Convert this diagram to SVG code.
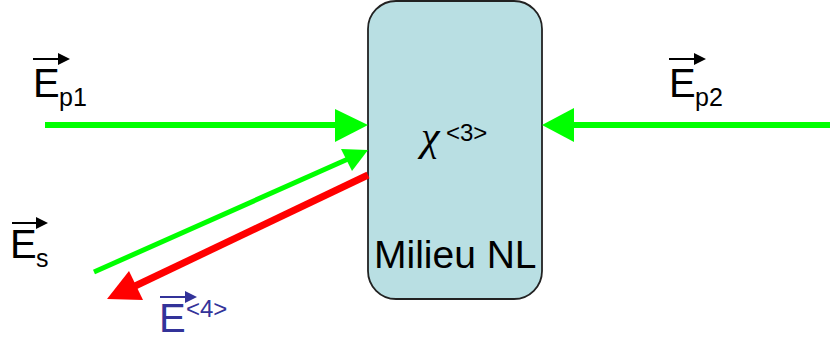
<svg xmlns="http://www.w3.org/2000/svg" width="830" height="341" viewBox="0 0 830 341">
<style>
.t{font-family:"Liberation Sans",Arial,sans-serif;fill:#000}
.b{fill:#333399}
.g{stroke:#00FF00;fill:none}
.r{stroke:#FF0000;fill:none}
.va{stroke:#000;stroke-width:2}
</style>
<rect width="830" height="341" fill="#fff"/>
<g id="milieu">
<rect x="368" y="1" width="174" height="298" rx="28" ry="28" fill="#B9DFE3" stroke="#222" stroke-width="1.8"/>
<text x="421" y="150" font-family="'Liberation Serif','Times New Roman',serif" font-style="italic" font-size="42">χ</text>
<text class="t" x="446" y="141" font-size="24">&lt;3&gt;</text>
<text class="t" x="374" y="268" font-size="39">Milieu NL</text>
</g>
<g id="connectors">
<line class="g" x1="45" y1="125" x2="338" y2="125" stroke-width="6"/>
<polygon points="335,109 368,125 335,142" fill="#00FF00"/>
<line class="g" x1="830" y1="125" x2="572" y2="125" stroke-width="6"/>
<polygon points="574,108 542,125 574,142" fill="#00FF00"/>
<line class="g" x1="94" y1="272" x2="348" y2="159" stroke-width="5"/>
<polygon points="341,149 368,150 352,171" fill="#00FF00"/>
<line class="r" x1="368" y1="175" x2="133" y2="287" stroke-width="7"/>
<polygon points="129,271 107,299 143,300" fill="#FF0000"/>
</g>
<g id="label-ep1">
<text class="t" x="33" y="97" font-size="40">E</text>
<text class="t" x="59" y="106" font-size="25">p1</text>
<line class="va" x1="33" y1="59" x2="60" y2="59"/>
<polygon points="58,53 70,59 58,65" fill="#000"/>
</g>
<g id="label-ep2">
<text class="t" x="669" y="97" font-size="40">E</text>
<text class="t" x="695" y="106" font-size="25">p2</text>
<line class="va" x1="669" y1="59" x2="696" y2="59"/>
<polygon points="694,53 706,59 694,65" fill="#000"/>
</g>
<g id="label-es">
<text class="t" x="10" y="258" font-size="40">E</text>
<text class="t" x="36" y="267" font-size="25">s</text>
<line class="va" x1="12" y1="223" x2="38" y2="223"/>
<polygon points="36,217 48,223 36,229" fill="#000"/>
</g>
<g id="label-e4">
<text class="t b" x="159" y="332" font-size="40">E</text>
<text class="t b" x="186" y="317" font-size="24">&lt;4&gt;</text>
<line x1="160" y1="297" x2="187" y2="297" stroke="#333399" stroke-width="2"/>
<polygon points="185,291 197,297 185,303" fill="#333399"/>
</g>
</svg>
